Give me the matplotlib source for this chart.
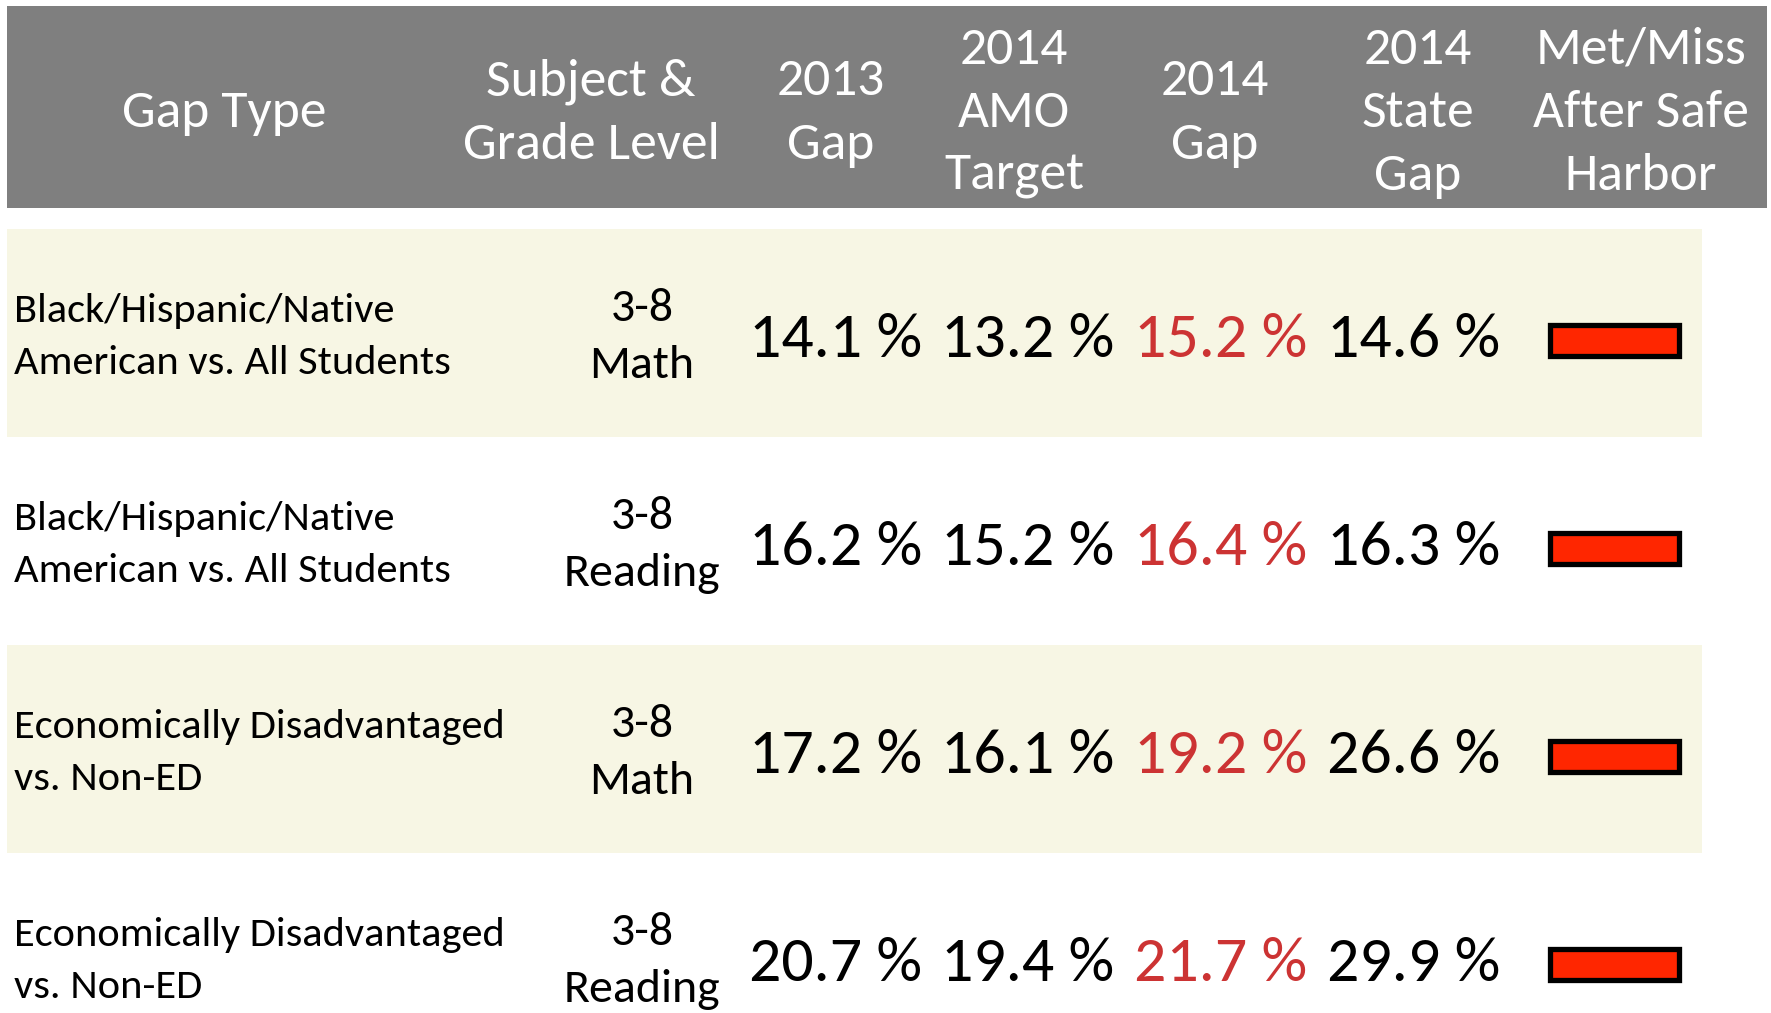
import matplotlib
matplotlib.use("Agg")
import matplotlib.pyplot as plt
from matplotlib.patches import Rectangle

# ---------------- data ----------------
headers = ["Gap Type", "Subject &\nGrade Level", "2013\nGap", "2014\nAMO\nTarget",
           "2014\nGap", "2014\nState\nGap", "Met/Miss\nAfter Safe\nHarbor"]
gap_types = ["Black/Hispanic/Native\nAmerican vs. All Students",
             "Black/Hispanic/Native\nAmerican vs. All Students",
             "Economically Disadvantaged\nvs. Non-ED",
             "Economically Disadvantaged\nvs. Non-ED"]
subjects = ["3-8\nMath", "3-8\nReading", "3-8\nMath", "3-8\nReading"]
gap_2013 = [14.1, 16.2, 17.2, 20.7]
amo_2014 = [13.2, 15.2, 16.1, 19.4]
gap_2014 = [15.2, 16.4, 19.2, 21.7]
state_gap_2014 = [14.6, 16.3, 26.6, 29.9]
met_miss = ["Miss", "Miss", "Miss", "Miss"]

# ---------------- style ----------------
FONT = ["Carlito", "Lato", "DejaVu Sans"]
W, H = 1771, 1013
HEADER_BG = "#7f7f7f"
BAND_BG = "#f7f6e4"
RED_TXT = "#cc3333"
STATUS_COL = {"Miss": "#ff2600", "Met": "#33aa33"}

fig = plt.figure(figsize=(W / 100, H / 100), dpi=100)
ax = fig.add_axes([0, 0, 1, 1])
ax.set_xlim(0, W)
ax.set_ylim(H, 0)
ax.axis("off")

# header band
ax.add_patch(Rectangle((7, 6), 1760, 202, facecolor=HEADER_BG, edgecolor="none"))
header_x = [224, 591, 831, 1014, 1215, 1418, 1641]
for hx, htxt in zip(header_x, headers):
    ax.text(hx, 113, htxt, ha="center", va="center", color="white",
            fontsize=38.5, family=FONT, linespacing=1.46)

# rows
row_top0, row_h = 229, 208
col_num_x = [836, 1028, 1221, 1414]
for i in range(len(gap_types)):
    top = row_top0 + i * row_h
    cy = top + row_h / 2
    if i % 2 == 0:
        ax.add_patch(Rectangle((7, top), 1695, row_h, facecolor=BAND_BG,
                               edgecolor="none", zorder=0))
    ax.text(14, cy + 4, gap_types[i], ha="left", va="center", color="black",
            fontsize=30.6, family=FONT, linespacing=1.56)
    ax.text(642, cy + 4, subjects[i], ha="center", va="center", color="black",
            fontsize=34.5, family=FONT, linespacing=1.48)
    vals = [gap_2013[i], amo_2014[i], gap_2014[i], state_gap_2014[i]]
    for j, (x, v) in enumerate(zip(col_num_x, vals)):
        c = RED_TXT if j == 2 else "black"
        ax.text(x, cy + 7, f"{v:.1f} %", ha="center", va="center", color=c,
                fontsize=46, family=FONT)

# status bars
ys = [row_top0 + i * row_h + row_h / 2 + 7 for i in range(len(met_miss))]
ax.barh(ys, [129] * len(ys), left=1550, height=31,
        color=[STATUS_COL[s] for s in met_miss], edgecolor="black",
        linewidth=3.8, zorder=3)

fig.savefig("out.png", dpi=100)
